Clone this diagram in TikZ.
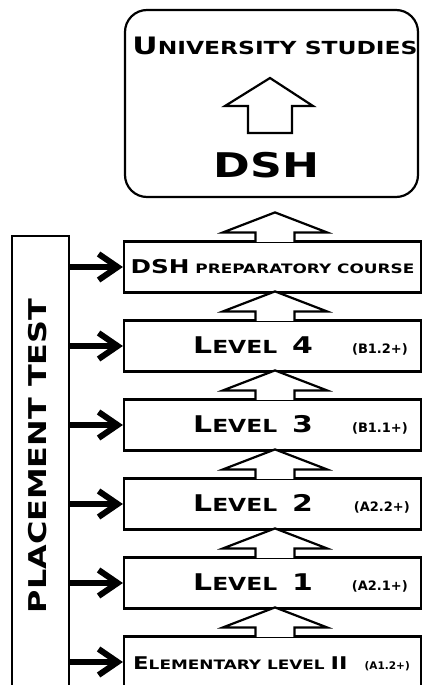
\documentclass[tikz,border=0pt]{standalone}
\usepackage{fontspec}
\usepackage{tikz}
\usetikzlibrary{arrows.meta}

\newfontfamily\cpfont{DejaVu Sans}[FakeStretch=1.3]
\newfontfamily\cefrfont{DejaVu Sans}
\newcommand\fsz[1]{\fontsize{#1}{#1}\selectfont}
\newcommand\fsc[4]{{\fsz{#1}#3}{\fsz{#2}#4}}
\newcommand\lvl[1]{\fsc{23}{18}{L}{EVEL}\hspace{15pt}{\fsz{23}#1}}

\tikzset{
	lvlbox/.style={draw, line width=2.2pt, minimum width=297pt, minimum height=51pt, inner sep=0pt},
	lvltxt/.style={anchor=base west, inner sep=0pt, font=\cpfont\bfseries},
	cefr/.style={anchor=base east, inner sep=0pt, font=\cefrfont\bfseries\fsz{13}},
	feed/.style={line width=6pt, -{Straight Barb[length=19pt,width=26pt]}},
	uparr/.pic={\draw[line width=2.2pt, fill=white] (-19.5,-1.5) -- (-19.5,8) -- (-52,8) -- (0,28) -- (52,8) -- (19.5,8) -- (19.5,-1.5);},
}

\begin{document}
\begin{tikzpicture}[x=1pt,y=1pt]
	\useasboundingbox (0,0) rectangle (423,-685);
	\clip (0,0) rectangle (423,-685);

	% goal
	\node[draw, line width=2.2pt, rounded corners=22pt, minimum width=293pt, minimum height=187pt] (uni) at (271.5,-103.5) {};
	\node[inner sep=0pt, font=\cpfont\bfseries] (unit) at (275,-46) {\fsc{24}{18}{U}{NIVERSITY STUDIES}};
	\node[inner sep=0pt, font=\cpfont\bfseries\fsz{34}] (exam) at (266.5,-165.5) {DSH};
	\draw[line width=2.2pt] (248,-133) -- (248,-106) -- (225,-106) -- (270,-78) -- (313,-106) -- (292,-106) -- (292,-133) -- cycle;

	% placement test
	\node[draw, line width=2.2pt, minimum width=57pt, minimum height=454pt, inner sep=0pt] (pt) at (40.5,-463) {};
	\node[rotate=90, inner sep=0pt, font=\cpfont\bfseries\fsz{24.5}] (ptt) at (38,-456) {PLACEMENT TEST};

	% course levels
	\node[lvlbox, font=\cpfont\bfseries] (dsh) at (272.5,-267) {\fsc{19}{13}{DSH}{~PREPARATORY COURSE}};
	\node[lvlbox] (l4) at (272.5,-346) {};
	\node[lvlbox] (l3) at (272.5,-425) {};
	\node[lvlbox] (l2) at (272.5,-504) {};
	\node[lvlbox] (l1) at (272.5,-583) {};
	\node[lvlbox] (el) at (272.5,-662) {};

	\node[lvltxt] (l4t) at (193,-353.5) {\lvl{4}};
	\node[lvltxt] (l3t) at (193,-432.5) {\lvl{3}};
	\node[lvltxt] (l2t) at (193,-511.5) {\lvl{2}};
	\node[lvltxt] (l1t) at (193,-590.5) {\lvl{1}};
	\node[lvltxt] (elt) at (133,-669.5) {\fsc{17.5}{13}{E}{LEMENTARY LEVEL~}{\fsz{17.5}II}};

	\node[cefr] (l4c) at (408,-353.5) {(B1.2+)};
	\node[cefr] (l3c) at (408,-432.5) {(B1.1+)};
	\node[cefr] (l2c) at (410,-511.5) {(A2.2+)};
	\node[cefr] (l1c) at (408,-590.5) {(A2.1+)};
	\node[cefr, font=\cefrfont\bfseries\fsz{10.5}] (elc) at (410,-669.5) {(A1.2+)};

	% way up
	\pic at ([xshift=2.5pt]dsh.north) {uparr};
	\pic at ([xshift=2.5pt]l4.north) {uparr};
	\pic at ([xshift=2.5pt]l3.north) {uparr};
	\pic at ([xshift=2.5pt]l2.north) {uparr};
	\pic at ([xshift=2.5pt]l1.north) {uparr};
	\pic at ([xshift=2.5pt]el.north) {uparr};

	% entry points
	\path [feed] (pt.east |- dsh) edge (dsh.west);
	\path [feed] (pt.east |- l4) edge (l4.west);
	\path [feed] (pt.east |- l3) edge (l3.west);
	\path [feed] (pt.east |- l2) edge (l2.west);
	\path [feed] (pt.east |- l1) edge (l1.west);
	\path [feed] (pt.east |- el) edge (el.west);
\end{tikzpicture}
\end{document}
